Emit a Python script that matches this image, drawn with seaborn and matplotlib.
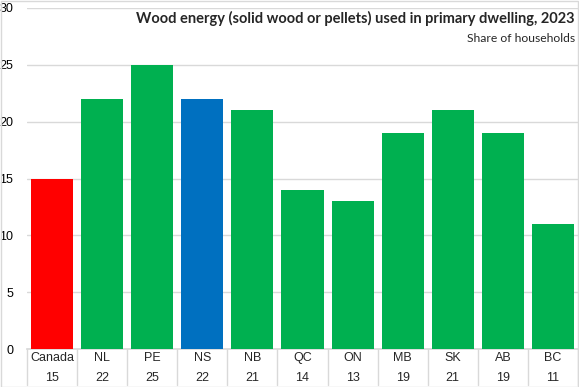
import matplotlib
matplotlib.use("Agg")
import matplotlib.pyplot as plt
import matplotlib.transforms as mtransforms
import seaborn as sns
import pandas as pd

regions = ["Canada", "NL", "PE", "NS", "NB", "QC", "ON", "MB", "SK", "AB", "BC"]
shares = [15, 22, 25, 22, 21, 14, 13, 19, 21, 19, 11]
bar_colors = ["#FF0000", "#00B050", "#00B050", "#0070C0", "#00B050", "#00B050",
              "#00B050", "#00B050", "#00B050", "#00B050", "#00B050"]

title = "Wood energy (solid wood or pellets) used in primary dwelling, 2023"
subtitle = "Share of households"

df = pd.DataFrame({"region": regions, "share": shares})

sns.set_theme(style="white")
plt.rcParams["font.family"] = ["Liberation Sans", "DejaVu Sans"]

fig = plt.figure(figsize=(5.79, 3.87), dpi=100)
ax = fig.add_axes([27 / 579, 38 / 387, 551 / 579, 341 / 387])

sns.barplot(data=df, x="region", y="share", hue="region", palette=bar_colors,
            legend=False, width=0.84, saturation=1, linewidth=0, ax=ax, zorder=3)

ax.set_xlim(-0.5, len(regions) - 0.5)
ax.set_ylim(0, 30)
ax.set_yticks(range(0, 31, 5))
ax.yaxis.grid(True, color="#D9D9D9", linewidth=1, zorder=0)
ax.tick_params(axis="y", labelsize=9, colors="#000000", pad=10, length=0)
for lbl in ax.get_yticklabels():
    lbl.set_horizontalalignment("right")
ax.set_xticks([])
ax.set_xlabel("")
ax.set_ylabel("")
for side in ["top", "right", "left"]:
    ax.spines[side].set_visible(False)
ax.spines["bottom"].set_color("#D9D9D9")

# category table under the axis
trans = mtransforms.blended_transform_factory(ax.transData, fig.transFigure)
for i, (r, v) in enumerate(zip(regions, shares)):
    ax.text(i, 1 - 358 / 387, r, transform=trans, ha="center", va="center", fontsize=9)
    ax.text(i, 1 - 378 / 387, str(v), transform=trans, ha="center", va="center", fontsize=9)
for b in range(len(regions) + 1):
    ax.plot([b - 0.5, b - 0.5], [38 / 387, 2 / 387], transform=trans, color="#D9D9D9",
            linewidth=1, clip_on=False)

fig.text(575 / 579, 1 - 18 / 387, title, ha="right", va="center", fontsize=10.5,
         fontweight="bold", family=["Lato", "DejaVu Sans"])
fig.text(575 / 579, 1 - 38 / 387, subtitle, ha="right", va="center", fontsize=8.75,
         family=["Lato", "DejaVu Sans"])

fig.patches.append(plt.Rectangle((0.5 / 579, 0.5 / 387), 577.5 / 579, 385.5 / 387,
                                 transform=fig.transFigure, fill=False,
                                 edgecolor="#D9D9D9", linewidth=1))

fig.savefig("out.png", dpi=100)
